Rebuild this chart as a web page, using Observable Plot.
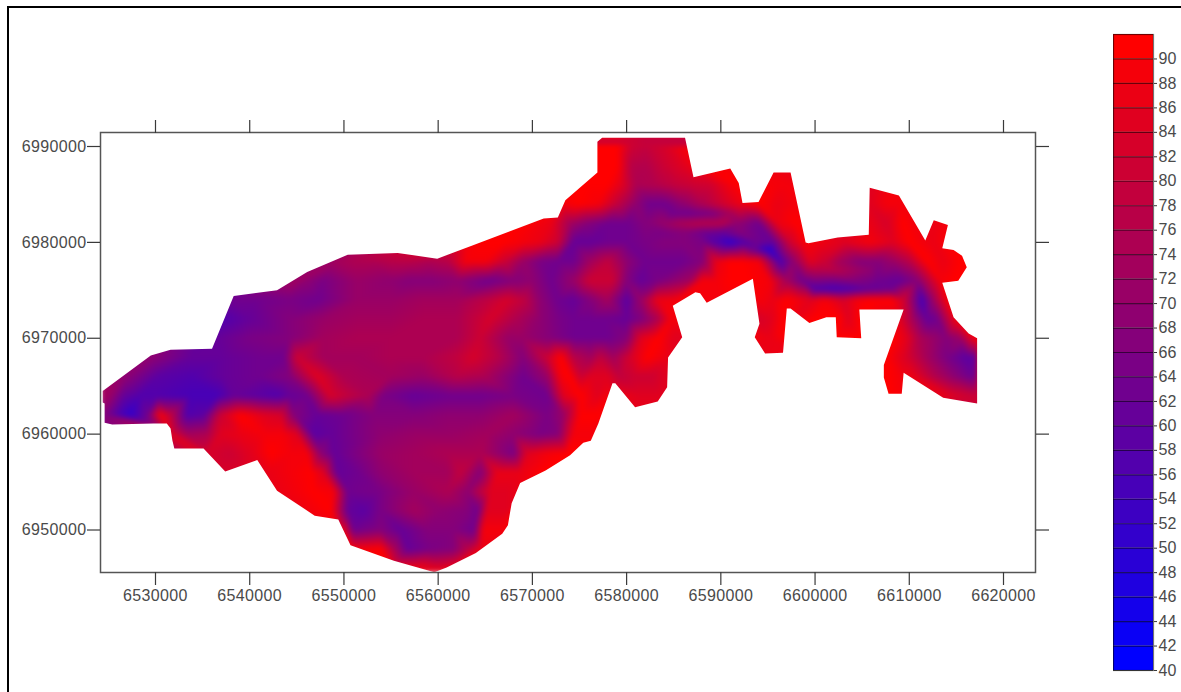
<!DOCTYPE html>
<html>
<head>
<meta charset="utf-8">
<script src="https://cdn.jsdelivr.net/npm/d3@7"></script>
<script src="https://cdn.jsdelivr.net/npm/@observablehq/plot@0.6"></script>
<style>
  html, body { margin: 0; padding: 0; background: #fff; overflow: hidden; width: 1181px; height: 692px; }
  #page { position: relative; width: 1181px; height: 692px; overflow: hidden; }
  #border { position: absolute; left: 7px; top: 6px; width: 1300px; height: 800px; border-left: 2px solid #000; border-top: 2px solid #000; }
  #map, #key { position: absolute; top: 0; }
  #map { left: 0; }
  #key { left: 1113px; }
  svg { background: transparent !important; }
</style>
</head>
<body>
<div id="page"><div id="border"></div><div id="map"></div><div id="key"></div></div>
<script>
// Axis ticks and legend levels
const xTicks = [6530000, 6540000, 6550000, 6560000, 6570000, 6580000, 6590000, 6600000, 6610000, 6620000];
const yTicks = [6950000, 6960000, 6970000, 6980000, 6990000];
const xDomain = [6524163, 6623396];
const yDomain = [6945568, 6991460];
const levels = [40,42,44,46,48,50,52,54,56,58,60,62,64,66,68,70,72,74,76,78,80,82,84,86,88,90];

// Boundary of the surface, in km
const outlineX = [6524.4,6524.4,6524.6,6524.6,6525.4,6529.8,6531.2,6531.6,6531.8,6532.0,6535.1,6537.4,6540.8,6542.9,6546.9,6549.4,6550.7,6555.3,6559.6,6560.9,6564.0,6566.8,6567.4,6567.8,6568.7,6571.4,6574.0,6575.4,6576.2,6577.0,6578.5,6578.8,6580.9,6583.3,6584.3,6584.4,6585.9,6584.9,6587.3,6587.8,6588.5,6593.4,6594.1,6593.6,6594.7,6596.6,6597.0,6597.4,6599.4,6601.2,6602.2,6602.3,6604.9,6604.7,6609.4,6607.3,6607.3,6607.8,6609.2,6609.4,6613.6,6617.2,6617.2,6616.3,6614.7,6613.5,6615.2,6616.1,6615.6,6614.7,6613.5,6614.1,6612.6,6611.7,6608.9,6605.8,6605.7,6602.4,6599.3,6599.0,6597.4,6595.6,6594.0,6592.3,6591.9,6591.0,6587.1,6586.2,6577.4,6576.9,6576.9,6573.5,6572.7,6571.2,6563.7,6559.9,6555.7,6550.4,6546.1,6542.9,6538.3,6536.0,6531.6,6529.5];
const outlineY = [6964.5,6963.3,6963.2,6961.2,6961.0,6961.1,6961.1,6960.6,6959.3,6958.5,6958.5,6956.1,6957.3,6954.1,6951.5,6951.1,6948.4,6946.8,6945.6,6946.1,6947.6,6949.6,6950.5,6952.8,6954.9,6956.2,6957.8,6959.1,6959.3,6961.1,6965.3,6965.3,6962.8,6963.4,6964.9,6968.0,6970.1,6973.4,6974.8,6974.7,6973.7,6976.2,6971.5,6970.1,6968.4,6968.5,6973.1,6973.1,6971.6,6972.2,6972.2,6970.1,6970.0,6973.0,6973.0,6967.2,6965.9,6964.2,6964.2,6966.4,6963.8,6963.2,6970.0,6970.5,6972.2,6975.8,6976.0,6977.4,6978.6,6979.2,6979.4,6981.8,6982.3,6980.2,6984.9,6985.7,6980.8,6980.5,6979.9,6980.0,6987.3,6987.3,6984.2,6984.1,6986.2,6987.7,6986.8,6990.9,6990.9,6990.5,6987.3,6984.4,6982.6,6982.5,6979.7,6978.3,6978.9,6978.7,6976.9,6975.0,6974.4,6968.9,6968.8,6968.2];

// Surface readings per northing (km): easting, value, easting, value, ...
const r6990 = [6577,90,6579,90,6580.5,80,6582,78,6584,82,6586,88];
const r6988 = [6575,90,6577,90,6579,90,6580.5,76,6582,75,6584,80,6586,84,6587.5,88];
const r6986 = [6574,90,6576,90,6578,90,6579.5,84,6581,74,6583,75,6585,78,6587,80,6589,81,6591,88,6592,90,6596,88,6597,88,6606,84,6608,88];
const r6984 = [6573,88,6575,90,6577,88,6579,78,6581,68,6582.5,62,6584,62,6586,68,6588,74,6590,80,6592,86,6594,90,6596,86,6598,88,6605.8,84,6607.6,88,6609,88];
const r6983 = [6585,62,6587,62,6589,64,6591,72];
const r6982 = [6572,86,6574,72,6576,66,6578,62,6580,62,6582,66,6584,70,6586,74,6588,76,6590,76,6592,68,6594,62,6596,86,6598,90,6605.8,86,6607.6,82,6609.3,90,6610.4,88,6612.6,86,6614,88];
const r6981 = [6584,64,6586,66,6588,62,6590,60,6592,66];
const r6980 = [6563,88,6565,90,6567,90,6569,88,6570.8,86,6572.7,80,6574.4,60,6576.2,60,6578,62,6580,62,6582,64,6584,66,6586,66,6588,64,6589.6,56,6591,50,6592.4,56,6593.9,62,6595.6,60,6597.3,80,6598.7,88,6600,88,6603,84,6605.8,88,6608.3,84,6610,90,6612.5,86,6613.5,88];
const r6979 = [6593.5,62,6595.2,48];
const r6978 = [6549,72,6551,74,6553,74,6555,76,6557,76,6559,74,6561,76,6563,88,6565,88,6567,80,6569,70,6570.8,64,6572.7,62,6574.4,62,6576.2,72,6578,78,6580,68,6582,62,6584,62,6586,62,6588,66,6589.6,86,6591,90,6592.4,90,6594,88,6595.3,70,6596.3,55,6597.7,68,6599.5,84,6601,80,6602.6,72,6604.8,66,6606.5,66,6608.3,70,6610,76,6611.9,90,6613.6,86,6615.4,90];
const r6977 = [6600,76,6602,76,6604,72,6606,68];
const r6976 = [6544.5,72,6546,68,6547.8,64,6551.4,70,6555,68,6557,66,6559,66,6562,68,6565.5,62,6568,66,6570,68,6572,62,6574.4,70,6576,80,6578.5,80,6580,66,6581.5,60,6583.3,64,6586.8,72,6588,88,6589.5,88,6591,90,6593,90,6595.2,88,6597,72,6598.7,62,6601.3,64,6604,66,6606.6,62,6609,60,6610.8,66,6611.5,72,6613.3,88,6614.7,90];
const r6975 = [6600,56,6602,54,6604,56,6606,60,6608,62];
const r6974 = [6538.3,62,6540.8,62,6544.3,64,6547.2,62,6551.4,70,6555,70,6558.4,72,6562,72,6565.5,78,6567.3,82,6569,78,6570.8,68,6572.7,62,6574.4,60,6576.2,66,6578,72,6580,58,6581.5,70,6583.3,86,6585.2,88,6590,88,6593,88,6594.3,88,6595.5,86,6597,90,6598,88,6599.5,84,6601,88,6603,82,6604.5,88,6606,90,6608,90,6609.3,82,6610.8,62,6611.3,54,6612.5,70,6614,88];
const r6972 = [6537.2,56,6540,60,6544.3,66,6547.8,70,6551.4,72,6555,72,6558.4,74,6562,74,6563.8,78,6565.5,82,6568.4,74,6570.8,68,6572.7,64,6574.4,62,6576.2,62,6578,62,6580,60,6581.8,66,6583.3,74,6584.7,88,6585.5,88,6594,82,6595.3,84,6596.7,90,6598,86,6600,90,6602.5,90,6603.5,84,6604.8,90,6609,84,6610.4,72,6611.9,60,6612.9,62,6614,76,6615,88];
const r6970 = [6536.5,60,6540,64,6544.3,66,6547.8,72,6551.4,74,6555,74,6558.4,74,6562,74,6564.4,80,6567.3,70,6569,70,6571.9,66,6574.4,62,6576.2,62,6578,62,6580,66,6581.5,84,6583.3,90,6585,84,6586.3,84,6593.6,88,6595.3,86,6597,90,6602.3,90,6604.9,90,6608.3,90,6609.8,84,6611.1,74,6612.5,70,6614,66,6615.4,70,6616.8,86,6617.3,88];
const r6968 = [6529.5,68,6533.7,60,6537.2,60,6540.8,62,6543.6,62,6545,80,6547.8,72,6551.4,72,6555,74,6558.4,74,6562,78,6563.7,82,6566.3,76,6569,66,6571.6,80,6573,90,6574.4,76,6576.2,72,6577.2,78,6578.6,72,6580.4,82,6582.2,90,6584.3,86,6607.5,90,6609.8,82,6611.9,72,6614,64,6616.1,58,6617.2,60];
const r6966 = [6526.8,68,6530.2,58,6533.7,56,6537.2,60,6540.8,62,6544.3,66,6547.2,84,6550,74,6555,72,6558.4,70,6562,76,6564.8,74,6569,62,6571.6,70,6573,88,6574,90,6575.1,80,6576.2,84,6578,84,6579.3,78,6580.7,80,6582.5,80,6584.3,84,6607.7,90,6609,88,6610.4,86,6612.5,76,6614.7,68,6616.5,62,6617.2,64];
const r6964 = [6524.4,72,6525.2,70,6526.6,60,6528.4,56,6530.2,56,6533.7,54,6536.6,54,6538.3,60,6540.8,58,6542.9,56,6544.3,60,6546.1,62,6548.6,82,6550.4,78,6552.5,74,6554.2,64,6557.4,60,6561,62,6564.5,62,6568,64,6571.6,62,6573.3,84,6575.1,90,6576.9,84,6577.8,88,6581.5,84,6583.6,84,6608,90,6614.4,84,6616.5,80,6617.2,80];
const r6962 = [6524.5,66,6526,56,6527.3,50,6529.1,62,6530.5,88,6531.6,78,6533.4,56,6535.1,58,6536.9,80,6539,90,6541.5,84,6543.3,82,6544.7,66,6547.2,60,6550,62,6553.1,66,6557.4,66,6561,68,6564.5,68,6568,72,6571.6,64,6573.3,70,6575.1,90,6576.9,90];
const r6960 = [6531.6,84,6533.4,72,6535.5,74,6536.9,84,6539,86,6541.5,88,6543.6,88,6545,84,6546.8,58,6548.6,60,6553.9,68,6557.4,70,6561,70,6565.2,72,6568,68,6570.9,64,6572.7,66,6574.4,88,6576.2,88];
const r6958 = [6535.5,82,6537.9,80,6540,84,6542.2,90,6544.3,88,6546.1,88,6547.5,68,6548.9,60,6553.9,70,6557.4,72,6561,74,6564.5,74,6568,64,6569.5,84,6571.6,88,6573.7,90];
const r6956 = [6537,82,6540,84,6542.2,86,6544.3,88,6546.5,90,6547.8,84,6549.3,60,6551.4,62,6553.9,68,6557.4,72,6561,72,6562.4,78,6564.5,66,6566.3,86,6568.7,86,6571.2,90];
const r6954 = [6543,86,6545,88,6546.8,90,6548.9,88,6550.4,62,6553.9,64,6557.4,70,6561,74,6563.1,68,6565.5,84,6567.3,84,6568.5,86];
const r6952 = [6546.8,88,6548.6,90,6550.4,60,6552.1,58,6553.9,64,6557.4,72,6560.2,68,6563.1,66,6564.2,62,6565.2,84,6567.3,84];
const r6950 = [6549.5,86,6550,86,6551,62,6553.9,66,6556,60,6558.9,66,6561.6,66,6563.8,62,6564.8,88,6566.6,88];
const r6948 = [6550.9,88,6553.9,90,6555.3,74,6556.8,60,6559.2,64,6561.6,66,6563.1,76,6564.5,86];
const r6946 = [6555,88,6558,88,6560,84,6562,88];

const rows = [[6990,r6990],[6988,r6988],[6986,r6986],[6984,r6984],[6983,r6983],[6982,r6982],[6981,r6981],[6980,r6980],[6979.2,r6979],[6978,r6978],[6977.1,r6977],[6976,r6976],[6975.1,r6975],[6974,r6974],[6972,r6972],[6970,r6970],[6968,r6968],[6966,r6966],[6964,r6964],[6962,r6962],[6960,r6960],[6958,r6958],[6956,r6956],[6954,r6954],[6952,r6952],[6950,r6950],[6948,r6948],[6946,r6946]];

const field = [];
for (const [northing, pairs] of rows) {
  for (let i = 0; i < pairs.length; i += 2) {
    field.push({x: pairs[i] * 1000, y: northing * 1000, v: pairs[i + 1]});
  }
}

// White surround: the frame rectangle with the boundary as a hole
const surround = [
  [xDomain[0], outlineY[0] * 1000], [xDomain[0], yDomain[1]], [xDomain[1], yDomain[1]],
  [xDomain[1], yDomain[0]], [xDomain[0], yDomain[0]], [xDomain[0], outlineY[0] * 1000],
  ...outlineX.map((d, i) => [d * 1000, outlineY[i] * 1000]),
  [outlineX[0] * 1000, outlineY[0] * 1000], [xDomain[0], outlineY[0] * 1000]
];

const colorScale = {type: "linear", domain: [40, 90], range: ["#0000ff", "#ff0000"], interpolate: "rgb", clamp: true};
const font = {fontFamily: "'Liberation Sans', Arial, sans-serif", fontSize: "16px", background: "transparent"};
const ink = "#3a3a3a", label = "#4a4a4a";

const map = Plot.plot({
  width: 1181, height: 692,
  marginLeft: 100, marginRight: 146, marginTop: 132, marginBottom: 120,
  style: {...font, letterSpacing: "0.35px"},
  x: {domain: xDomain},
  y: {domain: yDomain},
  color: colorScale,
  marks: [
    Plot.raster(field, {x: "x", y: "y", fill: "v", interpolate: "barycentric", pixelSize: 1, clip: "frame"}),
    Plot.line(surround, {x: d => d[0], y: d => d[1], fill: "#fff", stroke: "none"}),
    Plot.frame({stroke: "#555", strokeWidth: 1.5}),
    Plot.axisX({anchor: "bottom", ticks: xTicks, tickSize: 13, tickPadding: 4, tickFormat: d => String(d), label: null, stroke: ink, fill: label, strokeWidth: 1.2}),
    Plot.axisX({anchor: "top", ticks: xTicks, tickSize: 13, tickFormat: () => "", label: null, stroke: ink, strokeWidth: 1.2}),
    Plot.axisY({anchor: "left", ticks: yTicks, tickSize: 13, tickPadding: 1, tickFormat: d => String(d), label: null, stroke: ink, fill: label, strokeWidth: 1.2}),
    Plot.axisY({anchor: "right", ticks: yTicks, tickSize: 13, tickFormat: () => "", label: null, stroke: ink, strokeWidth: 1.2})
  ]
});
map.querySelectorAll("image").forEach(img => { img.style.filter = "blur(2.5px)"; });
document.getElementById("map").append(map);

const key = Plot.plot({
  width: 68, height: 692,
  marginLeft: 0, marginRight: 28, marginTop: 34, marginBottom: 22,
  style: font,
  x: {domain: [0, 1], axis: null},
  y: {domain: [40, 92]},
  color: colorScale,
  marks: [
    Plot.rect(levels, {x1: 0, x2: 1, y1: d => d, y2: d => d + 2, fill: d => d}),
    Plot.ruleY(levels, {stroke: "#000", strokeOpacity: 0.55, strokeWidth: 1.2}),
    Plot.frame({stroke: "#000", strokeOpacity: 0.55, strokeWidth: 1.2}),
    Plot.axisY({anchor: "right", ticks: levels, tickSize: 3, tickPadding: 2, tickFormat: d => String(d), label: null, stroke: ink, fill: label})
  ]
});
document.getElementById("key").append(key);
</script>
</body>
</html>
